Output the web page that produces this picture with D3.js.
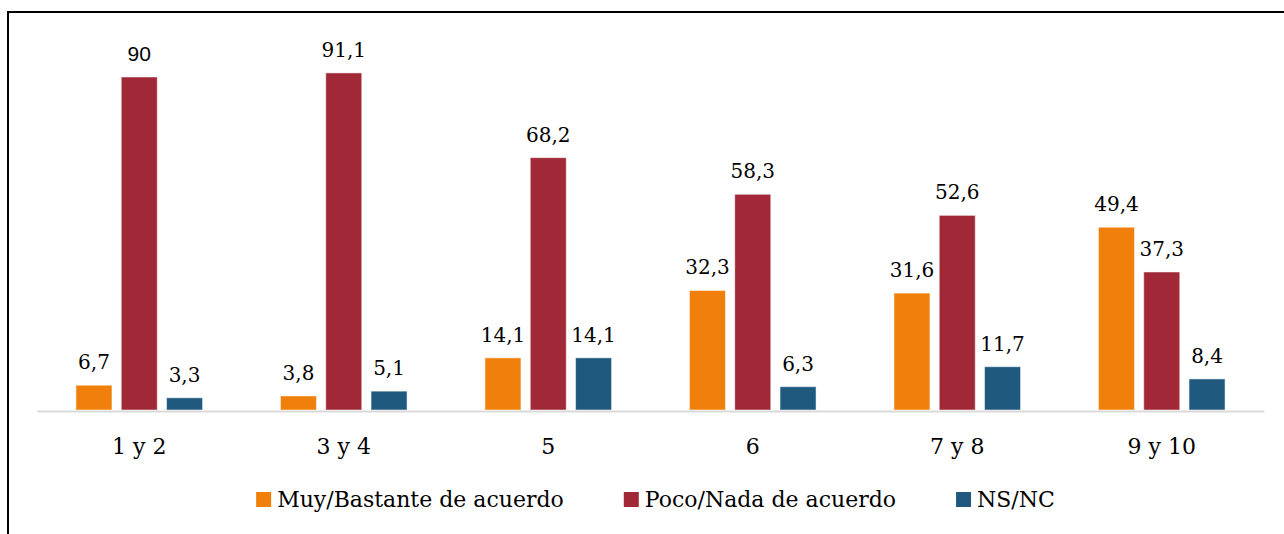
<!DOCTYPE html>
<html>
<head>
<meta charset="utf-8">
<script src="https://cdn.jsdelivr.net/npm/d3@7"></script>
<style>
  body { margin: 0; background: #fff; }
  svg { display: block; }
</style>
</head>
<body>
<svg id="chart"></svg>
<script>
// categories and series
var categories = ["1 y 2", "3 y 4", "5", "6", "7 y 8", "9 y 10"];
var seriesNames = ["Muy/Bastante de acuerdo", "Poco/Nada de acuerdo", "NS/NC"];
var seriesColors = ["#f0800b", "#a12837", "#1f5a7e"];

// values per series, one per category
var muyBastante = [6.7, 3.8, 14.1, 32.3, 31.6, 49.4];
var pocoNada = [90, 91.1, 68.2, 58.3, 52.6, 37.3];
var nsnc = [3.3, 5.1, 14.1, 6.3, 11.7, 8.4];

var seriesValues = [muyBastante, pocoNada, nsnc];

var width = 1284, height = 534;
var serif = "'DejaVu Serif', serif";
var sans = "'Liberation Sans', Arial, sans-serif";

var svg = d3.select("#chart")
    .attr("width", width)
    .attr("height", height);

// outer frame (only top and left edges show in the picture)
svg.append("rect")
    .attr("x", 8)
    .attr("y", 12)
    .attr("width", width + 20)
    .attr("height", height + 20)
    .attr("fill", "none")
    .attr("stroke", "#000")
    .attr("stroke-width", 2);

// x scale for the groups
var x = d3.scaleBand()
    .domain(categories)
    .range([37, 1264]);

// x scale inside a group
var xSub = d3.scaleBand()
    .domain(seriesNames)
    .range([0, x.bandwidth()])
    .paddingInner(0.205)
    .paddingOuter(0.86);

// y scale
var y = d3.scaleLinear()
    .domain([0, 100])
    .range([410, 40]);

// flatten data for drawing
var bars = [];
categories.forEach(function(c, i) {
    seriesNames.forEach(function(s, j) {
        bars.push({cat: c, series: s, value: seriesValues[j][i], color: seriesColors[j]});
    });
});

// bars
svg.append("g").selectAll("rect")
    .data(bars)
    .enter()
    .append("rect")
    .attr("x", d => x(d.cat) + xSub(d.series))
    .attr("y", d => y(d.value))
    .attr("width", xSub.bandwidth())
    .attr("height", d => y(0) - y(d.value))
    .attr("fill", d => d.color)
    .attr("stroke", "#fff")
    .attr("stroke-opacity", 0.5)
    .attr("stroke-width", 1);

// baseline axis
var xAxis = svg.append("g")
    .attr("transform", "translate(0," + (y(0) + 1) + ")")
    .call(d3.axisBottom(x).tickSize(0).tickPadding(27));
xAxis.select(".domain")
    .attr("stroke", "#d9d9d9")
    .attr("stroke-width", 2);
xAxis.selectAll("text")
    .attr("fill", "#000")
    .style("font-family", serif)
    .style("font-size", "22px");

// value labels, comma as decimal mark
svg.append("g").selectAll("text")
    .data(bars)
    .enter()
    .append("text")
    .attr("x", d => x(d.cat) + xSub(d.series) + xSub.bandwidth() / 2)
    .attr("y", d => y(d.value) - 16)
    .attr("text-anchor", "middle")
    .style("font-family", d => Number.isInteger(d.value) ? sans : serif)
    .style("font-size", d => Number.isInteger(d.value) ? "21px" : "20px")
    .attr("fill", "#000")
    .text(d => String(d.value).replace(".", ","));

// legend
var legend = svg.append("g");
var items = legend.selectAll("g")
    .data(seriesNames)
    .enter()
    .append("g");

items.append("rect")
    .attr("y", 492)
    .attr("width", 15)
    .attr("height", 15)
    .attr("fill", (d, i) => seriesColors[i]);

items.append("text")
    .attr("x", 21)
    .attr("y", 507)
    .style("font-family", serif)
    .style("font-size", "22px")
    .attr("fill", "#000")
    .text(d => d);

// place items one after another, then center the whole legend
var gap = 60;
var pos = 0;
items.each(function() {
    var w = this.querySelector("text").getComputedTextLength();
    d3.select(this).attr("transform", "translate(" + pos + ",0)");
    pos += 21 + w + gap;
});
var legendWidth = pos - gap;
legend.attr("transform", "translate(" + (655.5 - legendWidth / 2) + ",0)");
</script>
</body>
</html>
